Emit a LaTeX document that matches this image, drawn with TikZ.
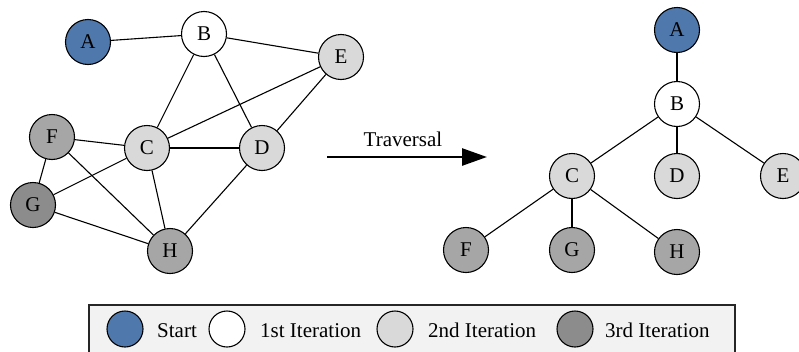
\documentclass[tikz,border=0pt]{standalone}
\usepackage{fontspec}
\setmainfont{Liberation Serif}
\usetikzlibrary{arrows.meta}
\definecolor{startblue}{RGB}{79,121,173}
\definecolor{iterone}{RGB}{255,255,255}
\definecolor{itertwo}{RGB}{217,217,217}
\definecolor{iterthree}{RGB}{166,166,166}
\definecolor{iterdeep}{RGB}{140,140,140}
\definecolor{legendbg}{RGB}{242,242,242}
\tikzset{
  vtx/.style={circle, draw=black, line width=1.1pt, minimum size=45pt, inner sep=0pt,
              font=\fontsize{21}{24}\selectfont},
  keydot/.style={circle, draw=black, line width=1.1pt, minimum size=36pt, inner sep=0pt},
  keytext/.style={anchor=base west, inner sep=0pt, font=\fontsize{21}{24}\selectfont},
  link/.style={line width=1.1pt, draw=black},
}
\begin{document}
\begin{tikzpicture}[x=1pt, y=-1pt]
\clip (0,0) rectangle (799,351);
\fill[white] (0,0) rectangle (799,351);

% ---- original graph ----
\node[vtx, fill=startblue] (gA) at (88,42)  {A};
\node[vtx, fill=iterone]   (gB) at (204,34) {B};
\node[vtx, fill=itertwo]   (gE) at (341,57) {E};
\node[vtx, fill=iterthree] (gF) at (52,137) {F};
\node[vtx, fill=itertwo]   (gC) at (147,148) {C};
\node[vtx, fill=itertwo]   (gD) at (262,148) {D};
\node[vtx, fill=iterdeep]  (gG) at (33,205) {G};
\node[vtx, fill=iterthree] (gH) at (170,251) {H};

\draw[link] (gA) -- (gB);
\draw[link] (gB) -- (gE);
\draw[link] (gB) -- (gC);
\draw[link] (gB) -- (gD);
\draw[link] (gE) -- (gC);
\draw[link] (gE) -- (gD);
\draw[link] (gF) -- (gC);
\draw[link] (gC) -- (gD);
\draw[link] (gF) -- (gG);
\draw[link] (gF) -- (gH);
\draw[link] (gG) -- (gC);
\draw[link] (gG) -- (gH);
\draw[link] (gC) -- (gH);
\draw[link] (gD) -- (gH);

% ---- traversal arrow ----
\coordinate (arrS) at (327,157);
\coordinate (arrE) at (487,157);
\draw[line width=2.6pt, -{Triangle[length=25pt,width=17pt]}] (arrS) -- (arrE);
\node[anchor=base, inner sep=0pt, font=\fontsize{21}{24}\selectfont] (trv) at (403,146) {Traversal};

% ---- resulting tree ----
\node[vtx, fill=startblue] (tA) at (677,30)  {A};
\node[vtx, fill=iterone]   (tB) at (677,104) {B};
\node[vtx, fill=itertwo]   (tC) at (572,176) {C};
\node[vtx, fill=itertwo]   (tD) at (677,176) {D};
\node[vtx, fill=itertwo]   (tE) at (783,176) {E};
\node[vtx, fill=iterthree] (tF) at (466,250) {F};
\node[vtx, fill=iterthree] (tG) at (572,250) {G};
\node[vtx, fill=iterthree] (tH) at (677,252) {H};

\draw[link] (tA) -- (tB);
\draw[link] (tB) -- (tC);
\draw[link] (tB) -- (tD);
\draw[link] (tB) -- (tE);
\draw[link] (tC) -- (tF);
\draw[link] (tC) -- (tG);
\draw[link] (tC) -- (tH);

% ---- legend ----
\draw[fill=legendbg, draw=black!85, line width=1.1pt] (89,305) rectangle (735,362);
\node[keydot, fill=startblue] (kA) at (125,329) {};
\node[keytext] (kAt) at (157,337) {Start};
\node[keydot, fill=iterone] (kB) at (227,329) {};
\node[keytext] (kBt) at (260,337) {1st Iteration};
\node[keydot, fill=itertwo] (kC) at (395,329) {};
\node[keytext] (kCt) at (428,337) {2nd Iteration};
\node[keydot, fill=iterdeep] (kD) at (575,329) {};
\node[keytext] (kDt) at (605,337) {3rd Iteration};
\end{tikzpicture}
\end{document}
